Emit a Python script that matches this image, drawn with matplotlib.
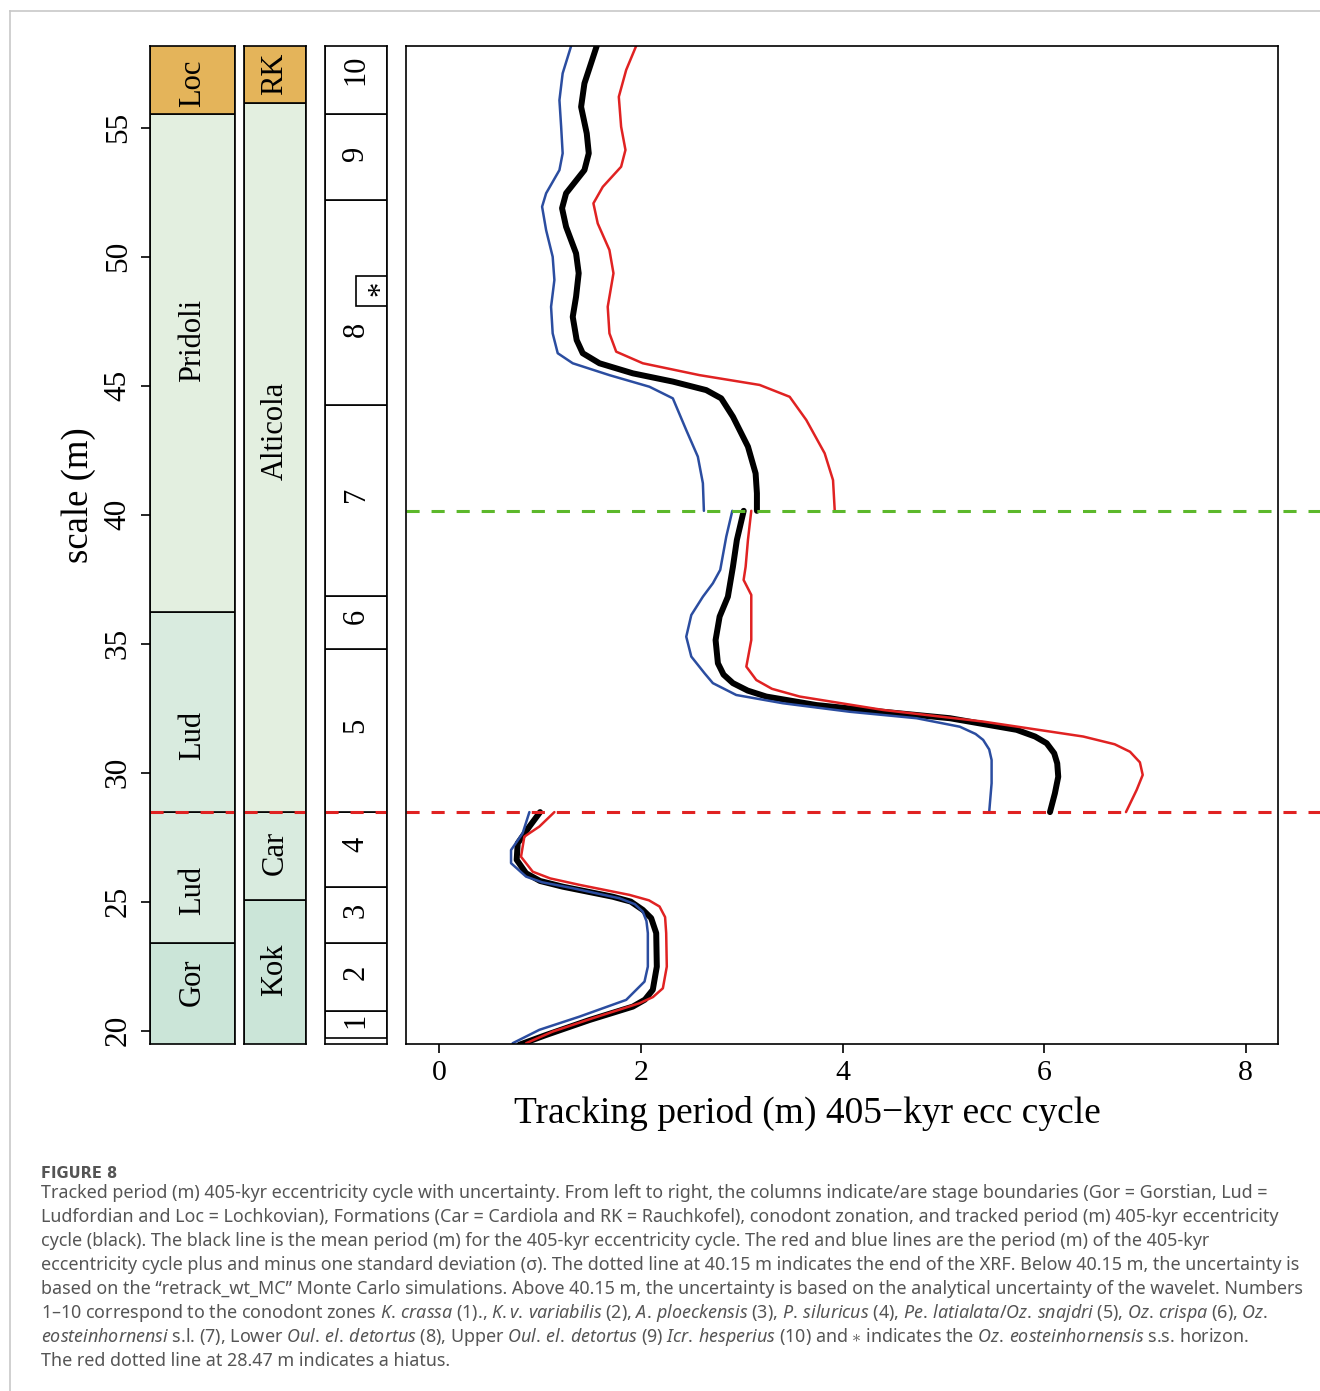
import matplotlib
matplotlib.use("Agg")
import matplotlib.pyplot as plt
from matplotlib.patches import Rectangle
from matplotlib.lines import Line2D

plt.rcParams["font.family"] = ["Liberation Serif", "DejaVu Serif"]
plt.rcParams["mathtext.fontset"] = "custom"
plt.rcParams["mathtext.rm"] = "Noto Sans"
plt.rcParams["mathtext.it"] = "Noto Sans:italic"

# --- columns (depth in m) ---
stage_names = ["Gor", "Lud", "Lud", "Pridoli", "Loc"]
stage_bounds = [19.0, 23.40, 28.47, 36.23, 55.52, 59.0]
stage_label_y = [21.89, 25.45, 31.46, 46.77, 56.71]
stage_colors = ["#CBE5D8", "#D9EBDF", "#D9EBDF", "#E3EFE0", "#E4B45A"]

formation_names = ["Kok", "Car", "Alticola", "RK"]
formation_bounds = [19.0, 25.05, 28.47, 55.95, 59.0]
formation_label_y = [22.36, 26.89, 43.24, 57.10]
formation_colors = ["#CBE5D8", "#D9EBDF", "#E3EFE0", "#E4B45A"]

zone_names = ["1", "2", "3", "4", "5", "6", "7", "8", "9", "10"]
zone_bounds = [19.73, 20.74, 23.40, 25.57, 28.47, 34.80, 36.85, 44.25, 52.20, 55.52, 59.0]
zone_label_y = [20.41, 22.24, 24.65, 27.21, 31.85, 36.04, 40.78, 47.17, 54.00, 57.24]
star_bottom, star_top = 48.08, 49.24

xrf_end = 40.15
hiatus = 28.47

# --- tracked period, above the end of the XRF ---
upper_mean_d = [58.17, 56.72, 55.81, 54.78, 54.01, 53.36, 52.46, 51.88, 51.16, 50.13, 49.36, 48.45,
                47.67, 46.77, 46.26, 45.87, 45.48, 45.16, 44.83, 44.51, 43.80, 42.64, 41.60, 40.83, 40.15]
upper_mean_p = [1.562, 1.440, 1.407, 1.463, 1.483, 1.440, 1.258, 1.218, 1.258, 1.357, 1.383, 1.357,
                1.324, 1.363, 1.423, 1.589, 1.920, 2.317, 2.648, 2.797, 2.913, 3.062, 3.138, 3.151, 3.151]
upper_lo_d = [58.17, 57.11, 56.07, 55.04, 54.01, 53.36, 52.46, 51.94, 51.03, 50.00, 49.10, 48.06,
              47.03, 46.26, 45.87, 45.41, 44.96, 44.51, 43.28, 42.25, 41.22, 40.15]
upper_lo_p = [1.308, 1.224, 1.192, 1.209, 1.224, 1.192, 1.060, 1.020, 1.060, 1.125, 1.142, 1.109,
              1.125, 1.175, 1.324, 1.688, 2.085, 2.317, 2.450, 2.565, 2.615, 2.625]
upper_hi_d = [58.17, 57.24, 56.20, 55.04, 54.14, 53.49, 52.71, 52.07, 51.29, 50.26, 49.36, 48.06,
              47.03, 46.32, 45.87, 45.41, 45.03, 44.57, 43.67, 42.38, 41.34, 40.15]
upper_hi_p = [1.953, 1.854, 1.781, 1.804, 1.847, 1.804, 1.622, 1.529, 1.572, 1.688, 1.728, 1.671,
              1.688, 1.755, 2.019, 2.582, 3.178, 3.476, 3.641, 3.823, 3.906, 3.923]

# --- between the hiatus and the end of the XRF ---
mid_mean_d = [40.15, 39.02, 37.98, 36.82, 36.05, 35.14, 34.24, 33.80, 33.47, 33.18, 32.95, 32.62,
              32.36, 32.11, 31.66, 31.40, 31.14, 30.75, 30.36, 29.84, 29.20, 28.47]
mid_mean_p = [3.020, 2.952, 2.913, 2.863, 2.781, 2.741, 2.764, 2.820, 2.913, 3.060, 3.244, 3.741,
              4.402, 5.065, 5.727, 5.910, 6.025, 6.100, 6.130, 6.140, 6.107, 6.058]
mid_lo_d = [40.15, 39.15, 37.86, 37.34, 36.82, 36.11, 35.27, 34.50, 33.85, 33.47, 33.01, 32.69,
            32.36, 32.11, 31.78, 31.50, 31.27, 30.90, 30.49, 29.59, 28.47]
mid_lo_p = [2.907, 2.847, 2.787, 2.714, 2.615, 2.500, 2.450, 2.500, 2.632, 2.714, 2.946, 3.409,
            4.071, 4.734, 5.164, 5.320, 5.395, 5.455, 5.479, 5.479, 5.455]
mid_hi_d = [40.15, 39.02, 37.98, 37.47, 36.89, 36.05, 35.14, 34.11, 33.59, 33.25, 32.95, 32.43,
            31.98, 31.40, 31.10, 30.81, 30.40, 29.91, 29.33, 28.47]
mid_hi_p = [3.095, 3.062, 3.039, 3.019, 3.095, 3.095, 3.095, 3.046, 3.145, 3.300, 3.575, 4.402,
            5.395, 6.388, 6.700, 6.852, 6.950, 6.978, 6.918, 6.812]

# --- below the hiatus ---
low_mean_d = [28.47, 27.91, 27.26, 26.62, 26.10, 25.80, 25.58, 25.19, 25.00, 24.68, 24.36, 23.78,
              22.48, 21.58, 21.20, 20.93, 20.41, 19.83, 19.45]
low_mean_p = [1.000, 0.894, 0.778, 0.768, 0.861, 1.000, 1.224, 1.721, 1.900, 2.019, 2.102, 2.152,
              2.158, 2.118, 2.040, 1.920, 1.490, 1.060, 0.794]
low_lo_d = [28.47, 27.65, 27.00, 26.49, 25.97, 25.75, 25.52, 25.13, 24.90, 24.61, 24.25, 23.78,
            22.48, 21.90, 21.19, 20.54, 20.03, 19.51]
low_lo_p = [0.894, 0.827, 0.712, 0.712, 0.861, 1.020, 1.324, 1.787, 1.940, 2.019, 2.055, 2.069,
            2.069, 2.036, 1.854, 1.390, 0.993, 0.728]
low_hi_d = [28.47, 27.91, 27.52, 26.74, 26.16, 25.90, 25.65, 25.26, 25.05, 24.81, 24.40, 23.78,
            22.48, 21.64, 21.30, 21.06, 20.48, 19.96, 19.51]
low_hi_p = [1.142, 0.993, 0.844, 0.811, 0.927, 1.100, 1.390, 1.887, 2.080, 2.185, 2.240, 2.251,
            2.257, 2.218, 2.120, 1.986, 1.522, 1.125, 0.861]

period_ticks = [0, 2, 4, 6, 8]
depth_ticks = [20, 25, 30, 35, 40, 45, 50, 55]

caption_title = "FIGURE 8"
caption_lines = [
    "Tracked period (m) 405-kyr eccentricity cycle with uncertainty. From left to right, the columns indicate/are stage boundaries (Gor = Gorstian, Lud =",
    "Ludfordian and Loc = Lochkovian), Formations (Car = Cardiola and RK = Rauchkofel), conodont zonation, and tracked period (m) 405-kyr eccentricity",
    "cycle (black). The black line is the mean period (m) for the 405-kyr eccentricity cycle. The red and blue lines are the period (m) of the 405-kyr",
    "eccentricity cycle plus and minus one standard deviation (σ). The dotted line at 40.15 m indicates the end of the XRF. Below 40.15 m, the uncertainty is",
    "based on the “retrack_wt_MC” Monte Carlo simulations. Above 40.15 m, the uncertainty is based on the analytical uncertainty of the wavelet. Numbers",
    r"1–10 correspond to the conodont zones $\mathit{K.\,crassa}$ (1)., $\mathit{K.v.\,variabilis}$ (2), $\mathit{A.\,ploeckensis}$ (3), $\mathit{P.\,siluricus}$ (4), $\mathit{Pe.\,latialata/Oz.\,snajdri}$ (5), $\mathit{Oz.\,crispa}$ (6), $\mathit{Oz.}$",
    r"$\mathit{eosteinhornensi}$ s.l. (7), Lower $\mathit{Oul.\,el.\,detortus}$ (8), Upper $\mathit{Oul.\,el.\,detortus}$ (9) $\mathit{Icr.\,hesperius}$ (10) and $\ast$ indicates the $\mathit{Oz.\,eosteinhornensis}$ s.s. horizon.",
    "The red dotted line at 28.47 m indicates a hiatus.",
]

BLUE = "#2B4DA0"
RED = "#E02222"
GREEN = "#5CB82B"
W, H = 1320, 1391
YLIM = (19.48, 58.17)
DASH = (0, (4.3, 3.9))


def box(left, right, top=46, bottom=1044):
    return [left / W, 1 - bottom / H, (right - left) / W, (bottom - top) / H]


fig = plt.figure(figsize=(W / 100, H / 100), dpi=100)

# light page frame
fig.add_artist(Line2D([10 / W, 1], [1 - 11 / H] * 2, transform=fig.transFigure, color="#C8C8C8", lw=1.2))
fig.add_artist(Line2D([10 / W] * 2, [0, 1 - 11 / H], transform=fig.transFigure, color="#C8C8C8", lw=1.2))

ax_st = fig.add_axes(box(150, 235))
ax_fm = fig.add_axes(box(244, 306))
ax_zn = fig.add_axes(box(325, 387))
ax = fig.add_axes(box(406, 1278))


def column(a, bounds, colors, names, label_y):
    for i in range(len(names)):
        a.add_patch(Rectangle((0, bounds[i]), 1, bounds[i + 1] - bounds[i],
                              facecolor=colors[i], edgecolor="black", lw=1.2))
        a.text(0.5, label_y[i], names[i], rotation=90, ha="center", va="center", fontsize=22)


column(ax_st, stage_bounds, stage_colors, stage_names, stage_label_y)
column(ax_fm, formation_bounds, formation_colors, formation_names, formation_label_y)
column(ax_zn, zone_bounds, ["white"] * len(zone_names), zone_names, zone_label_y)
ax_zn.add_patch(Rectangle((0.5, star_bottom), 0.5, star_top - star_bottom,
                          facecolor="white", edgecolor="black", lw=1.2))
ax_zn.text(0.9, (star_bottom + star_top) / 2 + 0.12, "*", rotation=90, ha="center", va="center", fontsize=22)

for a in (ax_st, ax_fm, ax_zn):
    a.set_xlim(0, 1)
    a.set_ylim(*YLIM)
    a.set_xticks([])
    a.set_yticks([])
    for s in a.spines.values():
        s.set_linewidth(1.2)
    a.axhline(hiatus, color=RED, lw=2.2, ls=DASH)

ax_st.set_yticks(depth_ticks)
ax_st.tick_params(axis="y", length=6.5, width=1.2, pad=6, labelsize=22.5)
plt.setp(ax_st.get_yticklabels(), rotation=90, va="center")
fig.text(79 / W, 1 - 495 / H, "scale (m)", rotation=90, ha="center", va="center", fontsize=26.5)

# tracked period
for d, p in [(upper_mean_d, upper_mean_p), (mid_mean_d, mid_mean_p), (low_mean_d, low_mean_p)]:
    ax.plot(p, d, color="black", lw=4.3, solid_capstyle="round", solid_joinstyle="round")
for d, p in [(upper_lo_d, upper_lo_p), (mid_lo_d, mid_lo_p), (low_lo_d, low_lo_p)]:
    ax.plot(p, d, color=BLUE, lw=1.8, solid_capstyle="round", solid_joinstyle="round")
for d, p in [(upper_hi_d, upper_hi_p), (mid_hi_d, mid_hi_p), (low_hi_d, low_hi_p)]:
    ax.plot(p, d, color=RED, lw=1.8, solid_capstyle="round", solid_joinstyle="round")

ext = (W - 406) / (1278 - 406)
ax.axhline(xrf_end, xmin=0, xmax=ext, color=GREEN, lw=2.2, ls=DASH, clip_on=False)
ax.axhline(hiatus, xmin=0, xmax=ext, color=RED, lw=2.2, ls=DASH, clip_on=False)

ax.set_xlim(-0.33, 8.32)
ax.set_ylim(*YLIM)
ax.set_yticks([])
ax.set_xticks(period_ticks)
ax.tick_params(axis="x", length=6.5, width=1.2, pad=5, labelsize=21.5)
for s in ax.spines.values():
    s.set_linewidth(1.2)
fig.text(807 / W, 1 - 1113 / H, "Tracking period (m) 405\u2212kyr ecc cycle",
         ha="center", va="center", fontsize=27)

# caption
fig.text(41 / W, 1 - 1178 / H, caption_title, fontsize=10.5, fontweight="bold",
         color="#555555", family="DejaVu Sans", va="baseline")
for i, line in enumerate(caption_lines):
    fig.text(41 / W, 1 - (1198 + 24 * i) / H, line, fontsize=12.9, color="#555555",
             family="Noto Sans", va="baseline")

fig.savefig("out.png", dpi=100)
